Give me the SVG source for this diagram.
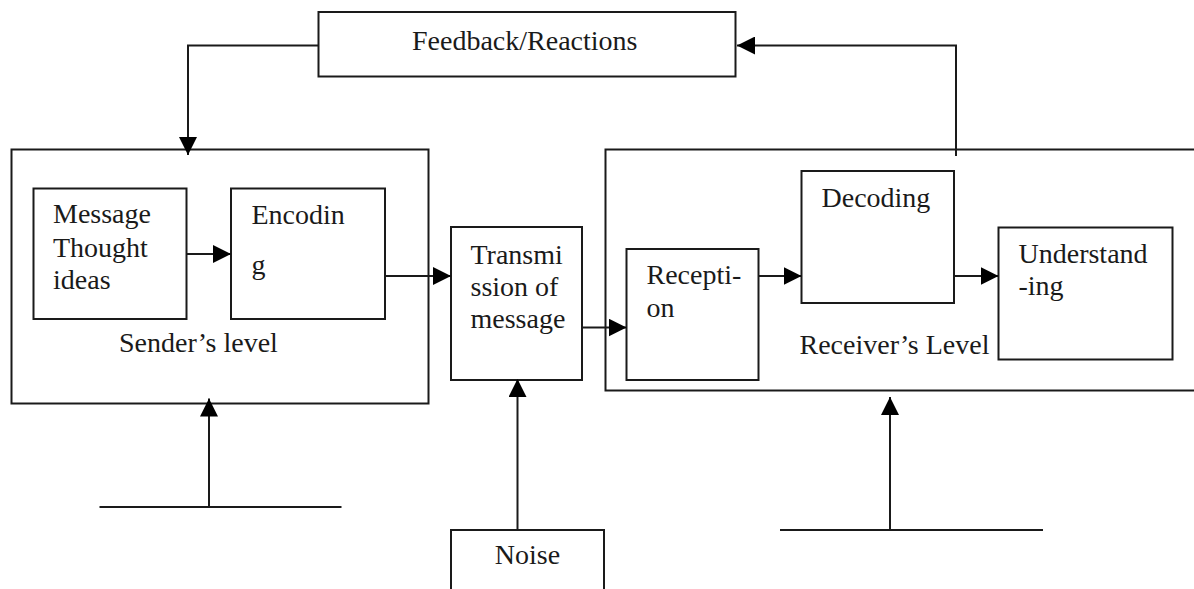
<svg xmlns="http://www.w3.org/2000/svg" width="1194" height="589" viewBox="0 0 1194 589">
<style>
.box{fill:none;stroke:#1a1a1a;stroke-width:2}
.ln{fill:none;stroke:#1a1a1a;stroke-width:2}
.t{font-family:"Liberation Serif","Times New Roman",serif;font-size:28px;fill:#1a1a1a}
</style>
<defs>
<marker id="ah" markerUnits="userSpaceOnUse" markerWidth="19" markerHeight="18" refX="18" refY="9" orient="auto">
<path d="M0,0 L18,9 L0,18 z" fill="#000"/>
</marker>
</defs>
<rect width="1194" height="589" fill="#fff"/>
<g id="feedback">
<rect class="box" x="318.5" y="12" width="417" height="64.5"/>
<text class="t" x="412" y="49.5">Feedback/Reactions</text>
</g>
<g id="sender">
<rect class="box" x="11.5" y="149.5" width="417" height="254"/>
<text class="t" x="119" y="352">Sender’s level</text>
</g>
<g id="message">
<rect class="box" x="33.5" y="188.5" width="153" height="130.5"/>
<text class="t" x="53" y="223">Message</text>
<text class="t" x="53" y="256.5">Thought</text>
<text class="t" x="53" y="288.5">ideas</text>
</g>
<g id="encoding">
<rect class="box" x="231" y="188.5" width="154" height="130.5"/>
<text class="t" x="251.5" y="223.5">Encodin</text>
<text class="t" x="251.5" y="273.5">g</text>
</g>
<g id="transmission">
<rect class="box" x="451" y="227" width="131" height="153"/>
<text class="t" x="470.5" y="263.5">Transmi</text>
<text class="t" x="470.5" y="295.5">ssion of</text>
<text class="t" x="470.5" y="328">message</text>
</g>
<g id="noise">
<rect class="box" x="451" y="530" width="153" height="80"/>
<text class="t" x="527.5" y="564" text-anchor="middle">Noise</text>
</g>
<g id="receiver">
<rect class="box" x="605.5" y="149.5" width="620" height="241"/>
<text class="t" x="799.5" y="353.5">Receiver’s Level</text>
</g>
<g id="reception">
<rect class="box" x="626.5" y="249" width="132" height="131"/>
<text class="t" x="646.5" y="284">Recepti-</text>
<text class="t" x="646.5" y="317">on</text>
</g>
<g id="decoding">
<rect class="box" x="801.5" y="171" width="152.5" height="132"/>
<text class="t" x="821.5" y="207">Decoding</text>
</g>
<g id="understanding">
<rect class="box" x="998.5" y="227.5" width="174" height="132"/>
<text class="t" x="1018.5" y="262.5">Understand</text>
<text class="t" x="1018.5" y="294.5">-ing</text>
</g>
<g id="connectors">
<path class="ln" d="M318.5,45.5 H188 V155" marker-end="url(#ah)"/>
<path class="ln" d="M956,156 V45.5 H737" marker-end="url(#ah)"/>
<path class="ln" d="M186.5,254 H231" marker-end="url(#ah)"/>
<path class="ln" d="M385,276 H451" marker-end="url(#ah)"/>
<path class="ln" d="M582,327.5 H626.5" marker-end="url(#ah)"/>
<path class="ln" d="M758.5,276 H801.5" marker-end="url(#ah)"/>
<path class="ln" d="M954,276 H998.5" marker-end="url(#ah)"/>
<path class="ln" d="M517.5,530 V379" marker-end="url(#ah)"/>
<path class="ln" d="M209,507 V398.5" marker-end="url(#ah)"/>
<path class="ln" d="M99.5,507 H341.5"/>
<path class="ln" d="M890,530 V397" marker-end="url(#ah)"/>
<path class="ln" d="M780,530 H1043"/>
</g>
</svg>
